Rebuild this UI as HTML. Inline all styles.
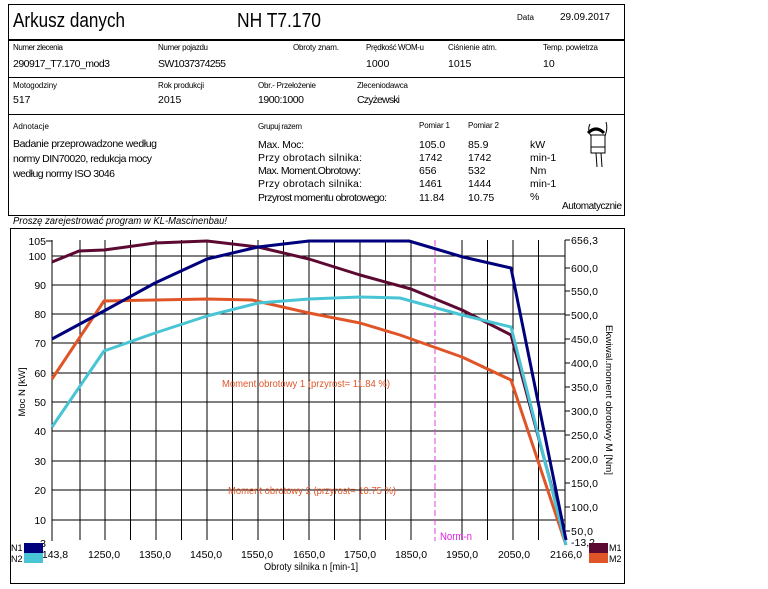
<!DOCTYPE html>
<html><head><meta charset="utf-8"><style>
html,body{margin:0;padding:0;background:#fff;}
svg{display:block;font-family:"Liberation Sans",sans-serif;}
</style></head><body>
<svg width="768" height="589" viewBox="0 0 768 589" xmlns="http://www.w3.org/2000/svg">
<rect x="8.5" y="4.5" width="616" height="211" fill="none" stroke="#000" stroke-width="1"/>
<line x1="8" y1="40" x2="625" y2="40" stroke="#000" stroke-width="2"/>
<line x1="8" y1="77.5" x2="625" y2="77.5" stroke="#000"/>
<line x1="8" y1="114.5" x2="625" y2="114.5" stroke="#000"/>
<text x="13" y="27" font-size="20" textLength="112" lengthAdjust="spacingAndGlyphs">Arkusz danych</text>
<text x="237" y="27" font-size="20" textLength="84" lengthAdjust="spacingAndGlyphs">NH T7.170</text>
<text x="517" y="20" font-size="8" textLength="17" lengthAdjust="spacingAndGlyphs">Data</text>
<text x="560" y="20" font-size="10" textLength="50" lengthAdjust="spacingAndGlyphs">29.09.2017</text>
<g font-size="8" lengthAdjust="spacingAndGlyphs">
<text x="13" y="50" textLength="50">Numer zlecenia</text><text x="158" y="50" textLength="50">Numer pojazdu</text><text x="293" y="50" textLength="46">Obroty znam.</text><text x="366" y="50" textLength="58">Prędkość WOM-u</text><text x="448" y="50" textLength="49">Ciśnienie atm.</text><text x="543" y="50" textLength="55">Temp. powietrza</text>
<text x="13" y="88" textLength="44">Motogodziny</text><text x="158" y="88" textLength="46">Rok produkcji</text><text x="258" y="88" textLength="58">Obr.- Przełożenie</text><text x="357" y="88" textLength="51">Zleceniodawca</text>
<text x="13" y="129" textLength="36">Adnotacje</text><text x="258" y="129" textLength="44">Grupuj razem</text><text x="419" y="128" textLength="31">Pomiar 1</text><text x="468" y="128" textLength="31">Pomiar 2</text>
</g>
<g font-size="10.5" lengthAdjust="spacingAndGlyphs">
<text x="13" y="67" textLength="97">290917_T7.170_mod3</text><text x="158" y="67" textLength="68">SW1037374255</text><text x="366" y="67">1000</text><text x="448" y="67">1015</text><text x="543" y="67">10</text>
<text x="13" y="103">517</text><text x="158" y="103">2015</text><text x="258" y="103" textLength="46">1900:1000</text><text x="357" y="103" textLength="43">Czyżewski</text>
<text x="13" y="147" textLength="144">Badanie przeprowadzone według</text><text x="13" y="162" textLength="139">normy DIN70020, redukcja mocy</text><text x="13" y="177" textLength="102">według normy ISO 3046</text>
<text x="258" y="148" textLength="46">Max. Moc:</text><text x="258" y="161" textLength="104">Przy obrotach silnika:</text><text x="258" y="174" textLength="103">Max. Moment.Obrotowy:</text><text x="258" y="187" textLength="104">Przy obrotach silnika:</text><text x="258" y="201" textLength="129">Przyrost momentu obrotowego:</text>
<text x="419" y="148">105.0</text><text x="419" y="161">1742</text><text x="419" y="174">656</text><text x="419" y="187">1461</text><text x="419" y="201">11.84</text>
<text x="468" y="148">85.9</text><text x="468" y="161">1742</text><text x="468" y="174">532</text><text x="468" y="187">1444</text><text x="468" y="201">10.75</text>
<text x="530" y="148">kW</text><text x="530" y="161">min-1</text><text x="530" y="174">Nm</text><text x="530" y="187">min-1</text><text x="530" y="200">%</text>
<text x="562" y="209" font-size="10" textLength="60">Automatycznie</text>
</g>
<g stroke="#000" fill="none" stroke-width="1">
<path d="M590 124 q-3 6 1 12 M606 122 q2 6 -1 14"/>
<rect x="591" y="135" width="14" height="18"/><line x1="591" y1="147" x2="605" y2="147"/>
<path d="M596 153 l1 14 M601 153 l1 14"/>
<path d="M588 133 q8 -8 16 0" stroke-width="3"/>
</g>
<text x="13" y="224" font-size="10" font-style="italic" textLength="214" lengthAdjust="spacingAndGlyphs">Proszę zarejestrować program w KL-Mascinenbau!</text>
<rect x="10.5" y="228.5" width="614" height="355" fill="none" stroke="#000"/>
<g stroke="#000" stroke-width="1">
<line x1="80" y1="240" x2="80" y2="540"/><line x1="105" y1="240" x2="105" y2="540"/><line x1="130.5" y1="240" x2="130.5" y2="540"/><line x1="156" y1="240" x2="156" y2="540"/><line x1="181.5" y1="240" x2="181.5" y2="540"/><line x1="207" y1="240" x2="207" y2="540"/><line x1="232.5" y1="240" x2="232.5" y2="540"/><line x1="258" y1="240" x2="258" y2="540"/><line x1="283.5" y1="240" x2="283.5" y2="540"/><line x1="309" y1="240" x2="309" y2="540"/><line x1="334.5" y1="240" x2="334.5" y2="540"/><line x1="360" y1="240" x2="360" y2="540"/><line x1="385.5" y1="240" x2="385.5" y2="540"/><line x1="411" y1="240" x2="411" y2="540"/><line x1="462" y1="240" x2="462" y2="540"/><line x1="487.5" y1="240" x2="487.5" y2="540"/><line x1="513" y1="240" x2="513" y2="540"/><line x1="538.5" y1="240" x2="538.5" y2="540"/>
<line x1="52" y1="256" x2="565" y2="256"/><line x1="52" y1="285" x2="565" y2="285"/><line x1="52" y1="314" x2="565" y2="314"/><line x1="52" y1="343" x2="565" y2="343"/><line x1="52" y1="373" x2="565" y2="373"/><line x1="52" y1="402" x2="565" y2="402"/><line x1="52" y1="431" x2="565" y2="431"/><line x1="52" y1="461" x2="565" y2="461"/><line x1="52" y1="490" x2="565" y2="490"/><line x1="52" y1="520" x2="565" y2="520"/>
<line x1="52" y1="240" x2="52" y2="541"/><line x1="565" y1="240" x2="565" y2="541"/>
<line x1="46" y1="241" x2="52" y2="241"/><line x1="565" y1="240" x2="570" y2="240"/>
<line x1="565" y1="268" x2="570" y2="268"/><line x1="565" y1="291" x2="570" y2="291"/><line x1="565" y1="315" x2="570" y2="315"/><line x1="565" y1="339" x2="570" y2="339"/><line x1="565" y1="363" x2="570" y2="363"/><line x1="565" y1="387" x2="570" y2="387"/><line x1="565" y1="411" x2="570" y2="411"/><line x1="565" y1="435" x2="570" y2="435"/><line x1="565" y1="459" x2="570" y2="459"/><line x1="565" y1="483" x2="570" y2="483"/><line x1="565" y1="507" x2="570" y2="507"/><line x1="565" y1="531" x2="570" y2="531"/>
</g>
<line x1="435" y1="240" x2="435" y2="541" stroke="#e040e0" stroke-dasharray="6,3"/>
<text x="440" y="540" font-size="11" fill="#e020e0" textLength="32" lengthAdjust="spacingAndGlyphs">Norm-n</text>
<g fill="none" stroke-width="3" stroke-linejoin="round">
<polyline stroke="#5c0a32" points="52,262 79,251 104,250 155,243 207,241 258,247 309,259 360,275 411,289 462,310 511,335 566,540"/>
<polyline stroke="#e05528" points="52,379 104,301 155,300 207,299 252,300 309,313 360,323 400,335 462,357 511,380 566,545"/>
<polyline stroke="#48c4d4" points="52,427 104,351 155,333 207,316 258,303 309,299 360,297 400,298 462,315 511,327 566,545"/>
<polyline stroke="#00007c" points="52,339 104,311 155,283 207,259 258,247 309,241 360,241 409,241 463,257 511,268 566,540"/>
</g>
<g font-size="10.5" text-anchor="end">
<text x="46" y="245">105</text><text x="46" y="260">100</text><text x="46" y="289">90</text><text x="46" y="318">80</text><text x="46" y="347">70</text><text x="46" y="377">60</text><text x="46" y="406">50</text><text x="46" y="435">40</text><text x="46" y="465">30</text><text x="46" y="494">20</text><text x="46" y="524">10</text><text x="46" y="547">3</text>
</g>
<g font-size="10.5" lengthAdjust="spacingAndGlyphs">
<text x="571" y="244" textLength="27">656,3</text><text x="571" y="272" textLength="27">600,0</text><text x="571" y="295" textLength="27">550,0</text><text x="571" y="319" textLength="27">500,0</text><text x="571" y="343" textLength="27">450,0</text><text x="571" y="367" textLength="27">400,0</text><text x="571" y="391" textLength="27">350,0</text><text x="571" y="415" textLength="27">300,0</text><text x="571" y="439" textLength="27">250,0</text><text x="571" y="463" textLength="27">200,0</text><text x="571" y="487" textLength="27">150,0</text><text x="571" y="511" textLength="27">100,0</text><text x="571" y="535" textLength="22">50,0</text><text x="571" y="546" textLength="24">-13,2</text>
</g>
<g font-size="10.5" text-anchor="middle">
<text x="55" y="558">143,8</text><text x="104" y="558">1250,0</text><text x="155" y="558">1350,0</text><text x="206" y="558">1450,0</text><text x="257" y="558">1550,0</text><text x="309" y="558">1650,0</text><text x="360" y="558">1750,0</text><text x="411" y="558">1850,0</text><text x="462" y="558">1950,0</text><text x="514" y="558">2050,0</text><text x="566" y="558">2166,0</text>
<text x="311" y="570" textLength="94" lengthAdjust="spacingAndGlyphs">Obroty silnika n [min-1]</text>
</g>
<text x="222" y="387" font-size="10.5" fill="#e05528" textLength="168" lengthAdjust="spacingAndGlyphs">Moment obrotowy 1 (przyrost= 11.84 %)</text>
<text x="228" y="494" font-size="10.5" fill="#e05528" textLength="168" lengthAdjust="spacingAndGlyphs">Moment obrotowy 2 (przyrost= 10.75 %)</text>
<text transform="translate(25,392) rotate(-90)" font-size="9.5" text-anchor="middle">Moc N [kW]</text>
<text transform="translate(606,400) rotate(90)" font-size="9.5" text-anchor="middle" textLength="150" lengthAdjust="spacingAndGlyphs">Ekwiwal.moment obrotowy M [Nm]</text>
<rect x="24" y="543" width="19" height="10" fill="#00007c"/><rect x="24" y="553" width="19" height="10" fill="#48c4d4"/>
<text x="11" y="551" font-size="9">N1</text><text x="11" y="562" font-size="9">N2</text>
<rect x="589" y="543" width="19" height="10" fill="#5c0a32"/><rect x="589" y="553" width="19" height="10" fill="#e05528"/>
<text x="609" y="551" font-size="9">M1</text><text x="609" y="562" font-size="9">M2</text>
</svg>
</body></html>
